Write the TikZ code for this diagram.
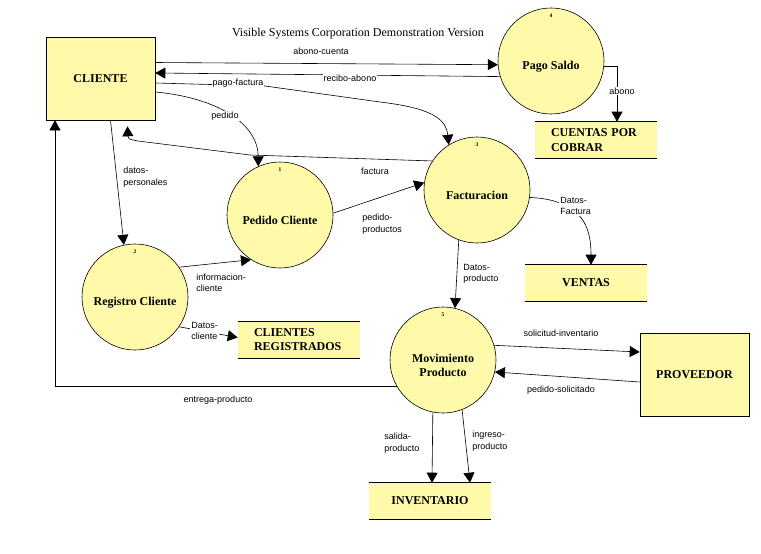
\documentclass[tikz,border=0pt]{standalone}
\usepackage{fontspec}
\setmainfont{Liberation Serif}
\setsansfont{Liberation Sans}
\usepackage{tikz}
\usetikzlibrary{arrows.meta}
\definecolor{amarillo}{RGB}{255,250,170}

\begin{document}
\begin{tikzpicture}[x=1pt,y=-1pt,line width=0.6pt,
  proceso/.style={circle,draw,fill=amarillo,minimum size=106pt,inner sep=0pt},
  nombre/.style={font=\fontsize{12}{14.5}\selectfont\bfseries,align=center,inner sep=0pt},
  entidad/.style={rectangle,draw,fill=amarillo,minimum width=109pt,minimum height=83pt,font=\fontsize{12}{14.5}\selectfont\bfseries},
  almacen/.style={rectangle,fill=amarillo,text width=90pt,inner xsep=16pt,minimum height=36pt,font=\fontsize{12}{14.5}\selectfont\bfseries,align=left},
  numero/.style={font=\fontsize{5.5}{6}\selectfont\bfseries,inner sep=0pt},
  etiqueta/.style={font=\fontsize{9}{11.5}\selectfont\sffamily,align=left,inner sep=1pt},
  tapa/.style={fill=white},
  flujo/.style={-{Triangle[length=10pt,width=11pt]}}]
\useasboundingbox (0,0) rectangle (761,554);

\node[font=\fontsize{12}{14}\selectfont] (titulo) at (358,34) {Visible Systems Corporation Demonstration Version};

\node[entidad] (cliente) at (100.5,78.5) {CLIENTE};
\node[entidad] (prov) at (694.5,374.5) {PROVEEDOR};

\node[proceso] (pago) at (551,61) {};
\node[proceso] (fact) at (477,190) {};
\node[proceso] (pedidoc) at (280,215) {};
\node[proceso] (registro) at (135,297) {};
\node[proceso] (mov) at (443,360) {};

\node[nombre] (pago-t) at (551,66.5) {Pago Saldo};
\node[nombre] (fact-t) at (477,195.5) {Facturacion};
\node[nombre] (pedidoc-t) at (280,220.5) {Pedido Cliente};
\node[nombre] (registro-t) at (135,302.5) {Registro Cliente};
\node[nombre] (mov-t) at (443,365.5) {Movimiento\\Producto};

\node[numero] (n1) at ([yshift=-8pt]pedidoc.north) {1};
\node[numero] (n2) at ([yshift=-8pt]registro.north) {2};
\node[numero] (n3) at ([yshift=-8pt]fact.north) {3};
\node[numero] (n4) at ([yshift=-8pt]pago.north) {4};
\node[numero] (n5) at ([yshift=-8pt]mov.north) {5};

\node[almacen] (cxc) at (596,140) {CUENTAS POR\\COBRAR};
\node[almacen] (creg) at (299,339.5) {CLIENTES\\REGISTRADOS};
\node[almacen,align=center] (ventas) at (586,283) {VENTAS};
\node[almacen,align=center] (inv) at (430,501) {INVENTARIO};
\foreach \s in {cxc,creg,ventas,inv}
  \draw (\s.north west) -- (\s.north east) (\s.south west) -- (\s.south east);

\draw[flujo] ([yshift=16pt]cliente.east) -- (pago.184);
\draw[flujo] (pago.197) -- ([yshift=5.5pt]cliente.east);
\draw[flujo] ([yshift=-4.5pt]cliente.east) -- (265,86) -- (380,102)
  .. controls (430,108) and (446,118) .. (fact.122);
\draw[flujo] ([yshift=-13.5pt]cliente.east) .. controls (220,98) and (258,125) .. (pedidoc.114);
\draw[flujo] (fact.147) -- (250,155) -- (138,141) .. controls (128,139) .. ([xshift=27pt,yshift=-6pt]cliente.south);
\draw[flujo] ([xshift=10pt]cliente.south) -- (registro.102);
\draw[flujo] (registro.34) -- (pedidoc.237);
\draw[flujo] (registro.326) -- ([yshift=2pt]creg.west);
\draw[flujo] (pedidoc.2) -- (fact.172);
\draw[flujo] (fact.352) .. controls (585,200) and (591,230) .. ([xshift=5pt]ventas.north);
\draw[flujo] (fact.250) -- (mov.77);
\draw[flujo] (mov.16) -- ([yshift=22.5pt]prov.west);
\draw[flujo] ([yshift=-7.5pt]prov.west) -- (mov.347);
\draw[flujo] (mov.210) -| ([xshift=-45.5pt]cliente.south);
\draw[flujo] (mov.259) -- ([xshift=2pt]inv.north);
\draw[flujo] (pago.354) -| ([xshift=21pt]cxc.north);
\draw[flujo] (mov.291) -- ([xshift=40pt]inv.north);

\node[etiqueta] (e-abonoc) at (321,51) {abono-cuenta};
\node[etiqueta,tapa] (e-recibo) at (350,78) {recibo-abono};
\node[etiqueta,tapa] (e-pagof) at (238,83) {pago-factura};
\node[etiqueta,tapa] (e-pedido) at (225,116) {pedido};
\node[etiqueta] (e-factura) at (375,171) {factura};
\node[etiqueta,anchor=west] (e-datosp) at (122,177) {datos-\\personales};
\node[etiqueta,anchor=west] (e-info) at (195,283) {informacion-\\cliente};
\node[etiqueta,tapa,anchor=west] (e-datosc) at (190,331) {Datos-\\cliente};
\node[etiqueta,anchor=west] (e-pedprod) at (361,224) {pedido-\\productos};
\node[etiqueta,tapa,anchor=west] (e-datosf) at (559,206) {Datos-\\Factura};
\node[etiqueta,anchor=west] (e-datospr) at (462,274) {Datos-\\producto};
\node[etiqueta] (e-solic) at (561,333) {solicitud-inventario};
\node[etiqueta] (e-pedsol) at (561,390) {pedido-solicitado};
\node[etiqueta] (e-entrega) at (218,400) {entrega-producto};
\node[etiqueta,anchor=west] (e-salida) at (383,443) {salida-\\producto};
\node[etiqueta,anchor=west] (e-ingreso) at (471,441) {ingreso-\\producto};
\node[etiqueta,tapa] (e-abono) at (622,91) {abono};
\end{tikzpicture}
\end{document}
